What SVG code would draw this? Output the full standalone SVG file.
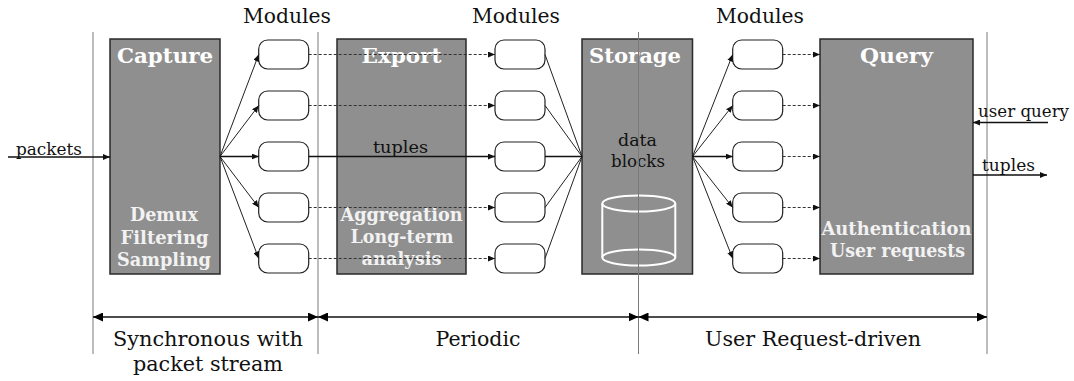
<svg xmlns="http://www.w3.org/2000/svg" width="1074" height="381" viewBox="0 0 1074 381">
  <style>
    .stage { fill: #8f8f8f; stroke: #2a2a2a; stroke-width: 1.5; }
    .mod { fill: #ffffff; stroke: #222; stroke-width: 1.2; }
    .guide { stroke: #7a7a7a; stroke-width: 1; fill: none; }
    .title { font-family: "DejaVu Serif", "Liberation Serif", serif; font-weight: bold; font-size: 21px; fill: #ffffff; text-anchor: middle; }
    .sub { font-family: "DejaVu Serif", "Liberation Serif", serif; font-weight: bold; font-size: 18px; fill: #f2f2f2; text-anchor: middle; }
    .lbl { font-family: "DejaVu Serif", "Liberation Serif", serif; font-size: 17px; fill: #111; }
    .big { font-family: "DejaVu Serif", "Liberation Serif", serif; font-size: 21px; fill: #111; text-anchor: middle; }
    .fan { stroke: #222; stroke-width: 1; fill: none; }
    .dash { stroke: #333; stroke-width: 1; stroke-dasharray: 3 2; fill: none; }
    .solid { stroke: #111; stroke-width: 1.3; fill: none; }
  </style>
  <defs>
    <marker id="ah" markerUnits="userSpaceOnUse" markerWidth="7" markerHeight="6" refX="7" refY="3" orient="auto">
      <path d="M0,0 L7,3 L0,6 z" fill="#111"/>
    </marker>
    <marker id="ahb" markerUnits="userSpaceOnUse" markerWidth="10" markerHeight="9" refX="10" refY="4.5" orient="auto-start-reverse">
      <path d="M0,0 L10,4.5 L0,9 z" fill="#000"/>
    </marker>
  </defs>

  <!-- phase boundary guides -->
  <g id="guides">
    <line class="guide" x1="93" y1="32" x2="93" y2="354"/>
    <line class="guide" x1="318" y1="32" x2="318" y2="354"/>
    <line class="guide" x1="987" y1="32" x2="987" y2="354"/>
  </g>

  <!-- stage boxes -->
  <g id="capture">
    <rect class="stage" x="110" y="39" width="110" height="235"/>
    <text class="title" x="165" y="63" textLength="96" lengthAdjust="spacingAndGlyphs">Capture</text>
    <text class="sub" x="164" y="221" textLength="68" lengthAdjust="spacingAndGlyphs">Demux</text>
    <text class="sub" x="164.5" y="244" textLength="88" lengthAdjust="spacingAndGlyphs">Filtering</text>
    <text class="sub" x="164" y="266" textLength="94" lengthAdjust="spacingAndGlyphs">Sampling</text>
  </g>
  <g id="export">
    <rect class="stage" x="337" y="39" width="129" height="235"/>
    <text class="title" x="401.5" y="63" textLength="80" lengthAdjust="spacingAndGlyphs">Export</text>
    <text class="sub" x="401.5" y="221" textLength="122" lengthAdjust="spacingAndGlyphs">Aggregation</text>
    <text class="sub" x="402" y="243" textLength="103" lengthAdjust="spacingAndGlyphs">Long-term</text>
    <text class="sub" x="401.5" y="265" textLength="80" lengthAdjust="spacingAndGlyphs">analysis</text>
  </g>
  <g id="storage">
    <rect class="stage" x="582" y="39" width="110.5" height="235"/>
    <text class="title" x="635" y="63" textLength="92" lengthAdjust="spacingAndGlyphs">Storage</text>
    <text class="lbl" x="637.5" y="146" text-anchor="middle" textLength="39" lengthAdjust="spacingAndGlyphs">data</text>
    <text class="lbl" x="638" y="167" text-anchor="middle" textLength="54" lengthAdjust="spacingAndGlyphs">blocks</text>
    <g fill="none" stroke="#ffffff" stroke-width="2">
      <ellipse cx="638.8" cy="203.5" rx="36.5" ry="8"/>
      <path d="M602.3,203.5 V257.5 A36.5,8 0 0 0 675.3,257.5 V203.5"/>
      <path d="M602.3,257.5 A36.5,8 0 0 1 675.3,257.5"/>
    </g>
  </g>
  <g id="query">
    <rect class="stage" x="820" y="39" width="153" height="235"/>
    <text class="title" x="896.5" y="63" textLength="73" lengthAdjust="spacingAndGlyphs">Query</text>
    <text class="sub" x="896.5" y="235" textLength="150" lengthAdjust="spacingAndGlyphs">Authentication</text>
    <text class="sub" x="897.5" y="257" textLength="135" lengthAdjust="spacingAndGlyphs">User requests</text>
  </g>

  <!-- guide through storage drawn over the box -->
  <line class="guide" x1="638.5" y1="32" x2="638.5" y2="354"/>

  <!-- module columns -->
  <g id="modules-1">
    <text class="big" x="287" y="23" textLength="88" lengthAdjust="spacingAndGlyphs">Modules</text>
    <rect class="mod" x="258.7" y="40" width="50" height="29" rx="9"/>
    <rect class="mod" x="258.7" y="91" width="50" height="29" rx="9"/>
    <rect class="mod" x="258.7" y="142" width="50" height="29" rx="9"/>
    <rect class="mod" x="258.7" y="193" width="50" height="29" rx="9"/>
    <rect class="mod" x="258.7" y="244" width="50" height="29" rx="9"/>
  </g>
  <g id="modules-2">
    <text class="big" x="516" y="23" textLength="88" lengthAdjust="spacingAndGlyphs">Modules</text>
    <rect class="mod" x="495" y="40" width="50" height="29" rx="9"/>
    <rect class="mod" x="495" y="91" width="50" height="29" rx="9"/>
    <rect class="mod" x="495" y="142" width="50" height="29" rx="9"/>
    <rect class="mod" x="495" y="193" width="50" height="29" rx="9"/>
    <rect class="mod" x="495" y="244" width="50" height="29" rx="9"/>
  </g>
  <g id="modules-3">
    <text class="big" x="760" y="23" textLength="88" lengthAdjust="spacingAndGlyphs">Modules</text>
    <rect class="mod" x="732.7" y="40" width="50" height="29" rx="9"/>
    <rect class="mod" x="732.7" y="91" width="50" height="29" rx="9"/>
    <rect class="mod" x="732.7" y="142" width="50" height="29" rx="9"/>
    <rect class="mod" x="732.7" y="193" width="50" height="29" rx="9"/>
    <rect class="mod" x="732.7" y="244" width="50" height="29" rx="9"/>
  </g>

  <!-- connectors -->
  <g id="connectors">
    <!-- input packets -->
    <line class="solid" x1="8" y1="157" x2="110" y2="157" marker-end="url(#ah)"/>
    <text class="lbl" x="16" y="155" textLength="66" lengthAdjust="spacingAndGlyphs">packets</text>

    <!-- capture fan-out -->
    <line class="fan" x1="220" y1="156.5" x2="258.7" y2="54.5" marker-end="url(#ah)"/>
    <line class="fan" x1="220" y1="156.5" x2="258.7" y2="105.5" marker-end="url(#ah)"/>
    <line class="solid" x1="220" y1="156.5" x2="258.7" y2="156.5" marker-end="url(#ah)"/>
    <line class="fan" x1="220" y1="156.5" x2="258.7" y2="207.5" marker-end="url(#ah)"/>
    <line class="fan" x1="220" y1="156.5" x2="258.7" y2="258.5" marker-end="url(#ah)"/>

    <!-- capture modules to export modules -->
    <line class="dash" x1="308.7" y1="54.5" x2="495" y2="54.5" marker-end="url(#ah)"/>
    <line class="dash" x1="308.7" y1="105.5" x2="495" y2="105.5" marker-end="url(#ah)"/>
    <line class="solid" x1="308.7" y1="156.5" x2="495" y2="156.5" marker-end="url(#ah)"/>
    <line class="dash" x1="308.7" y1="207.5" x2="495" y2="207.5" marker-end="url(#ah)"/>
    <line class="dash" x1="308.7" y1="258.5" x2="495" y2="258.5" marker-end="url(#ah)"/>
    <text class="lbl" x="400.5" y="153" text-anchor="middle" textLength="55" lengthAdjust="spacingAndGlyphs">tuples</text>

    <!-- export modules into storage -->
    <line class="fan" x1="545" y1="54.5" x2="582" y2="156.5"/>
    <line class="fan" x1="545" y1="105.5" x2="582" y2="156.5"/>
    <line class="solid" x1="545" y1="156.5" x2="582" y2="156.5"/>
    <line class="fan" x1="545" y1="207.5" x2="582" y2="156.5"/>
    <line class="fan" x1="545" y1="258.5" x2="582" y2="156.5"/>

    <!-- storage fan-out to query modules -->
    <line class="fan" x1="692.5" y1="156.5" x2="732.7" y2="54.5" marker-end="url(#ah)"/>
    <line class="fan" x1="692.5" y1="156.5" x2="732.7" y2="105.5" marker-end="url(#ah)"/>
    <line class="solid" x1="692.5" y1="156.5" x2="732.7" y2="156.5" marker-end="url(#ah)"/>
    <line class="fan" x1="692.5" y1="156.5" x2="732.7" y2="207.5" marker-end="url(#ah)"/>
    <line class="fan" x1="692.5" y1="156.5" x2="732.7" y2="258.5" marker-end="url(#ah)"/>

    <!-- query modules to query stage -->
    <line class="dash" x1="782.7" y1="54.5" x2="820" y2="54.5" marker-end="url(#ah)"/>
    <line class="dash" x1="782.7" y1="105.5" x2="820" y2="105.5" marker-end="url(#ah)"/>
    <line class="dash" x1="782.7" y1="156.5" x2="820" y2="156.5" marker-end="url(#ah)"/>
    <line class="dash" x1="782.7" y1="207.5" x2="820" y2="207.5" marker-end="url(#ah)"/>
    <line class="dash" x1="782.7" y1="258.5" x2="820" y2="258.5" marker-end="url(#ah)"/>

    <!-- user interaction -->
    <line class="solid" x1="1048" y1="122.5" x2="973" y2="122.5" marker-end="url(#ah)"/>
    <text class="lbl" x="978" y="117" textLength="91" lengthAdjust="spacingAndGlyphs">user query</text>
    <line class="solid" x1="973" y1="175" x2="1047" y2="175" marker-end="url(#ah)"/>
    <text class="lbl" x="982" y="171" textLength="53" lengthAdjust="spacingAndGlyphs">tuples</text>

    <!-- timing spans -->
    <line class="solid" x1="93" y1="317" x2="318" y2="317" marker-start="url(#ahb)" marker-end="url(#ahb)"/>
    <line class="solid" x1="318" y1="317" x2="638.5" y2="317" marker-start="url(#ahb)" marker-end="url(#ahb)"/>
    <line class="solid" x1="638.5" y1="317" x2="987" y2="317" marker-start="url(#ahb)" marker-end="url(#ahb)"/>
  </g>

  <g id="span-labels">
    <text class="big" x="208" y="346" textLength="190" lengthAdjust="spacingAndGlyphs">Synchronous with</text>
    <text class="big" x="208" y="371" textLength="150" lengthAdjust="spacingAndGlyphs">packet stream</text>
    <text class="big" x="478" y="346" textLength="85" lengthAdjust="spacingAndGlyphs">Periodic</text>
    <text class="big" x="813" y="346" textLength="216" lengthAdjust="spacingAndGlyphs">User Request-driven</text>
  </g>
</svg>
